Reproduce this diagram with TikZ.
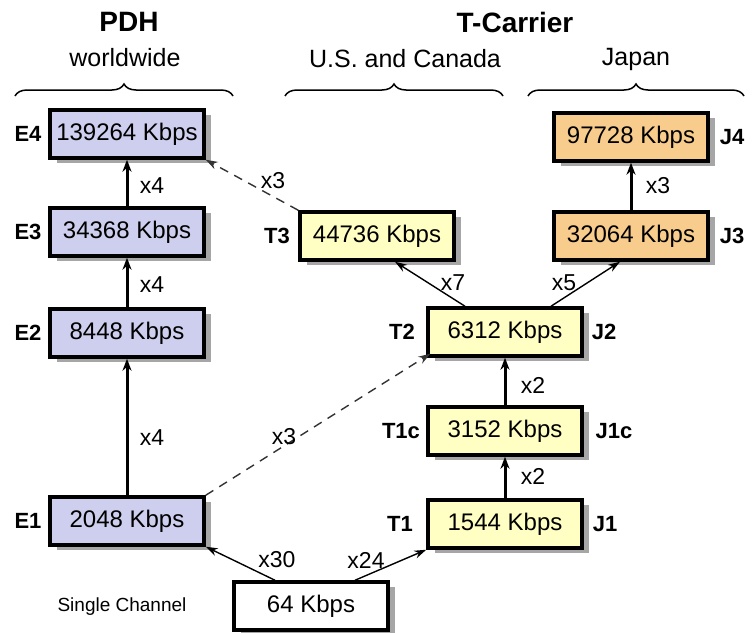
\documentclass[tikz,border=0pt]{standalone}
\usepackage{fontspec}
\setmainfont{Liberation Sans}
\usetikzlibrary{calc,arrows.meta,decorations.pathreplacing}
\definecolor{ebox}{RGB}{206,206,238}
\definecolor{tbox}{RGB}{255,255,196}
\definecolor{jbox}{RGB}{248,204,140}
\tikzset{
  rate/.style={draw=black,line width=3.5pt,minimum width=154pt,minimum height=48pt,inner sep=0pt,
    font=\fontsize{24}{26}\selectfont,
    preaction={fill=black!35,transform canvas={xshift=7pt,yshift=-5pt}}},
  ebx/.style={rate,fill=ebox},
  tbx/.style={rate,fill=tbox},
  jbx/.style={rate,fill=jbox},
  wbx/.style={rate,fill=white},
  side/.style={font=\bfseries\fontsize{22}{24}\selectfont},
  mult/.style={font=\fontsize{23}{25}\selectfont},
  region/.style={font=\fontsize{25}{27}\selectfont},
  thickarr/.style={line width=3pt,-{Stealth[length=12pt,width=9pt]}},
  thinarr/.style={line width=1.4pt,-{Stealth[length=12pt,width=8pt]}},
  dasharr/.style={line width=1.4pt,dash pattern=on 9pt off 7pt,black!80,-{Stealth[length=12pt,width=8pt]}},
  brc/.style={decorate,decoration={brace,amplitude=12pt},line width=1.5pt}
}
\begin{document}
\begin{tikzpicture}[x=1pt,y=-1pt]
\useasboundingbox (0,0) rectangle (752,632);
% headers
\node[font=\bfseries\fontsize{28}{30}\selectfont] (hpdh) at (129,22) {PDH};
\node[font=\bfseries\fontsize{28}{30}\selectfont] (htc) at (515,22) {T-Carrier};
\node[region] (hww) at (125,58) {worldwide};
\node[region] (hus) at (405,59) {U.S. and Canada};
\node[region] (hjp) at (636,59) {Japan};
\coordinate (b1l) at (15,96); \coordinate (b1r) at (233,96);
\coordinate (b2l) at (285,96); \coordinate (b2r) at (503,96);
\coordinate (b3l) at (528,96); \coordinate (b3r) at (744,96);
\draw[brc] (b1l) -- (b1r);
\draw[brc] (b2l) -- (b2r);
\draw[brc] (b3l) -- (b3r);
% boxes
\node[ebx] (E4) at (127,134) {139264 Kbps};
\node[ebx] (E3) at (127,232) {34368 Kbps};
\node[ebx] (E2) at (127,333) {8448 Kbps};
\node[ebx] (E1) at (127,521) {2048 Kbps};
\node[wbx] (S) at (311,606) {64 Kbps};
\node[tbx] (T1) at (505,524) {1544 Kbps};
\node[tbx] (T1c) at (505,431) {3152 Kbps};
\node[tbx] (T2) at (505,332) {6312 Kbps};
\node[tbx] (T3) at (377,236) {44736 Kbps};
\node[jbx] (J3) at (631,236) {32064 Kbps};
\node[jbx] (J4) at (631,137) {97728 Kbps};
% side labels
\node[side] (lE4) at (28,134) {E4};
\node[side] (lE3) at (28,232) {E3};
\node[side] (lE2) at (28,333) {E2};
\node[side] (lE1) at (28,521) {E1};
\node[side] (lT3) at (277,236) {T3};
\node[side] (lT2) at (402,332) {T2};
\node[side] (lT1c) at (401,431) {T1c};
\node[side] (lT1) at (400,524) {T1};
\node[side] (lJ4) at (732,137) {J4};
\node[side] (lJ3) at (732,236) {J3};
\node[side] (lJ2) at (604,332) {J2};
\node[side] (lJ1c) at (614,431) {J1c};
\node[side] (lJ1) at (605,524) {J1};
\node[font=\fontsize{19}{21}\selectfont] (sc) at (122,607) {Single Channel};
% connectors
\draw[thickarr] (E3) -- (E4);
\draw[thickarr] (E2) -- (E3);
\draw[thickarr] (E1) -- (E2);
\draw[thickarr] (T1) -- (T1c);
\draw[thickarr] (T1c) -- (T2);
\draw[thickarr] (J3) -- (J4);
\draw[thinarr] ($(S.north)+(-36,0)$) -- (E1.south east);
\draw[thinarr] ($(S.north)+(44,0)$) -- (T1.south west);
\draw[thinarr] ($(T2.north)+(-40,0)$) -- ($(T3.south)+(18,0)$);
\draw[thinarr] ($(T2.north)+(46,0)$) -- ($(J3.south)+(-11,0)$);
\draw[dasharr] (E1.north east) -- ($(T2.south west)+(4,-4)$);
\draw[dasharr] (T3.north west) -- (E4.south east);
% multiplier labels
\node[mult] (m1) at (152,186) {x4};
\node[mult] (m2) at (152,285) {x4};
\node[mult] (m3) at (152,438) {x4};
\node[mult] (m4) at (284,437) {x3};
\node[mult] (m5) at (273,181) {x3};
\node[mult] (m6) at (277,560) {x30};
\node[mult] (m7) at (366,560) {x24};
\node[mult] (m8) at (533,476) {x2};
\node[mult] (m9) at (533,385) {x2};
\node[mult] (m10) at (453,283) {x7};
\node[mult] (m11) at (564,283) {x5};
\node[mult] (m12) at (658,186) {x3};
\end{tikzpicture}
\end{document}
